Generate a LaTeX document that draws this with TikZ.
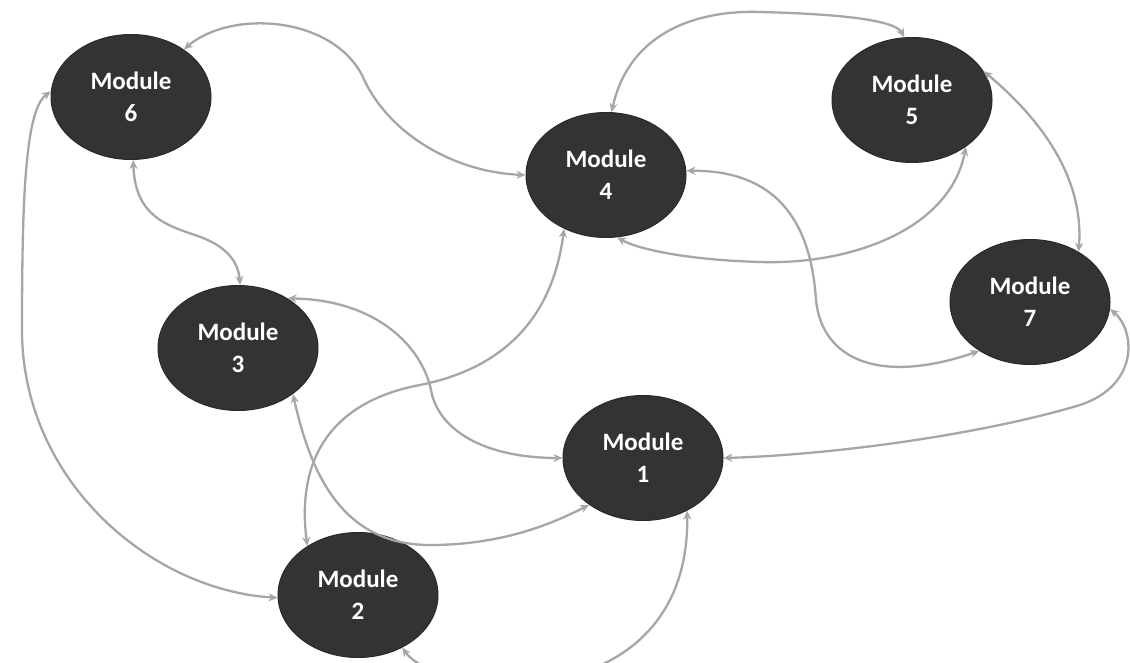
\documentclass[tikz,border=0pt]{standalone}
\usepackage{fontspec}
\setmainfont{Carlito}
\usetikzlibrary{shapes.geometric,arrows.meta}
\definecolor{nodefill}{HTML}{333333}
\definecolor{linkgray}{HTML}{A6A6A6}
\begin{document}
\begin{tikzpicture}[x=1pt,y=-1pt,
  mod/.style={ellipse,fill=nodefill,draw=nodefill!80!black,line width=1pt,
    minimum width=160pt,minimum height=125pt,inner sep=0pt,
    text=white,font=\bfseries\fontsize{25}{32}\selectfont,align=center},
  link/.style={draw=linkgray,line width=2.3pt,
    {Stealth[length=9pt,width=8pt]}-{Stealth[length=9pt,width=8pt]}}]
\useasboundingbox (0,0) rectangle (1130,663);
\fill[white] (0,0) rectangle (1130,663);
\node[mod] (m6) at (131,97) {Module\\6};
\node[mod] (m4) at (606,175) {Module\\4};
\node[mod] (m5) at (912,100) {Module\\5};
\node[mod] (m7) at (1030,302) {Module\\7};
\node[mod] (m3) at (238,348) {Module\\3};
\node[mod] (m1) at (643,458) {Module\\1};
\node[mod] (m2) at (358,595) {Module\\2};
% 6 - 4
\draw[link] (m6.42) .. controls (230,10) and (330,15) .. (362,75)
  .. controls (385,130) and (450,172) .. (m4.180);
% 6 - 3
\draw[link] (m6.-88) .. controls (135,215) and (165,225) .. (195,235)
  .. controls (225,245) and (238,260) .. (m3.88);
% 6 - 2
\draw[link] (m6.176) .. controls (25,110) and (22,200) .. (22,330)
  .. controls (22,480) and (150,590) .. (m2.182);
% 4 - 5 (top)
\draw[link] (m4.85) .. controls (630,30) and (700,10) .. (760,12)
  .. controls (840,14) and (895,20) .. (m5.97);
% 5 - 4 (bottom)
\draw[link] (m5.-41) .. controls (950,230) and (850,265) .. (760,262)
  .. controls (690,260) and (640,250) .. (m4.-80);
% 5 - 7
\draw[link] (m5.22) .. controls (1030,110) and (1085,170) .. (m7.46);
% 4 - 7
\draw[link] (m4.3) .. controls (790,170) and (812,240) .. (816,300)
  .. controls (822,360) and (880,385) .. (m7.-136);
% 3 - 1 (upper)
\draw[link] (m3.45) .. controls (380,300) and (425,350) .. (432,395)
  .. controls (445,440) and (500,458) .. (m1.180);
% 3 - 1 (lower)
\draw[link] (m3.-40) .. controls (310,470) and (340,545) .. (430,545)
  .. controls (500,545) and (550,525) .. (m1.-139);
% 2 - 4
\draw[link] (m2.136) .. controls (295,450) and (340,400) .. (420,385)
  .. controls (520,365) and (555,300) .. (m4.-128);
% 2 - 1 (bottom)
\draw[link] (m2.-50) .. controls (440,700) and (690,720) .. (m1.-50);
% 7 - 1
\draw[link] (m7.-5) .. controls (1135,330) and (1140,385) .. (1080,405)
  .. controls (980,435) and (830,455) .. (m1.0);
\end{tikzpicture}
\end{document}
